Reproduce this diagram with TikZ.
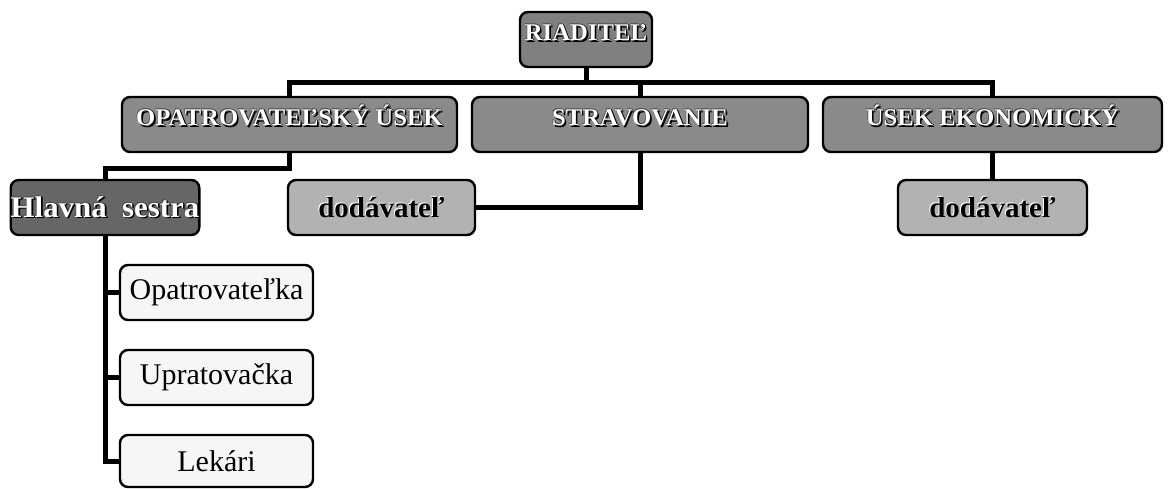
\documentclass[tikz,border=0pt]{standalone}
\usepackage{fontspec}
\setmainfont{Liberation Serif}
\newfontfamily\capsfont[FakeStretch=1.03]{Liberation Serif}
\definecolor{gtop}{HTML}{808080}
\definecolor{glev}{HTML}{8A8A8A}
\definecolor{gdark}{HTML}{666666}
\definecolor{glight}{HTML}{B2B2B2}
\definecolor{gpale}{HTML}{F6F6F6}
\newcommand\whsh[1]{\rlap{\kern1.6pt\raisebox{-1.6pt}{\textcolor{black}{#1}}}\rlap{\kern-0.6pt\raisebox{0.6pt}{\textcolor{black!70}{#1}}}\rlap{\kern0.9pt\textcolor{black}{#1}}\textcolor{white}{#1}}
\newcommand\blsh[1]{\rlap{\kern-1pt\raisebox{1pt}{\textcolor{white}{#1}}}\textcolor{black}{#1}}
\begin{document}
\begin{tikzpicture}[x=1pt,y=-1pt,
  box/.style={draw=black, line width=2.4pt, rounded corners=8pt, inner sep=0pt, minimum height=55pt, align=center},
  caps/.style={box, font=\capsfont\bfseries\fontsize{24}{26}\selectfont, text height=10pt, text depth=8pt},
  lowbox/.style={box, fill=gpale, font=\fontsize{30}{34}\selectfont, minimum width=193pt},
  conn/.style={line width=5pt, draw=black}]
\useasboundingbox (0,0) rectangle (1168,488);
\fill[white] (0,0) rectangle (1168,488);
\coordinate (bus) at (0,82);
% nodes
\node[caps, fill=gtop, minimum width=132pt] (riad) at (586,39.5) {\whsh{RIADITEĽ}};
\node[caps, fill=glev, minimum width=335pt] (opat) at (289.5,124.5) {\whsh{OPATROVATEĽSKÝ ÚSEK}};
\node[caps, fill=glev, minimum width=336pt] (strav) at (640,124.5) {\whsh{STRAVOVANIE}};
\node[caps, fill=glev, minimum width=339pt] (usek) at (992.5,124.5) {\whsh{ÚSEK EKONOMICKÝ}};
\node[box, fill=gdark, minimum width=188pt, font=\capsfont\bfseries\fontsize{30}{32}\selectfont] (hlav) at (105,207.5) {\whsh{Hlavná\hspace{0.25em} sestra}};
\node[box, fill=glight, minimum width=187pt, font=\bfseries\fontsize{29}{32}\selectfont] (dod1) at (381.5,207.5) {\blsh{dodávateľ}};
\node[box, fill=glight, minimum width=189pt, font=\bfseries\fontsize{29}{32}\selectfont] (dod2) at (992.5,207.5) {\blsh{dodávateľ}};
\node[lowbox] (opk) at (216.5,292.5) {Opatrovateľka};
\node[lowbox] (upr) at (216.5,377.5) {Upratovačka};
\node[lowbox, minimum height=52pt] (lek) at (216.5,461) {Lekári};
% connectors
\draw[conn] (riad.south) -- (riad.south |- bus);
\draw[conn] (opat.north) -- (opat.north |- bus) -| (usek.north);
\draw[conn] (strav.north) -- (strav.north |- bus);
\draw[conn] (opat.south) -- ++(0,15) -| (hlav.north);
\draw[conn] (strav.south) |- (dod1.east);
\draw[conn] (usek.south) -- (dod2.north);
\draw[conn] (hlav.south) |- (opk.west);
\draw[conn] (hlav.south) |- (upr.west);
\draw[conn] (hlav.south) |- (lek.west);
\end{tikzpicture}
\end{document}
